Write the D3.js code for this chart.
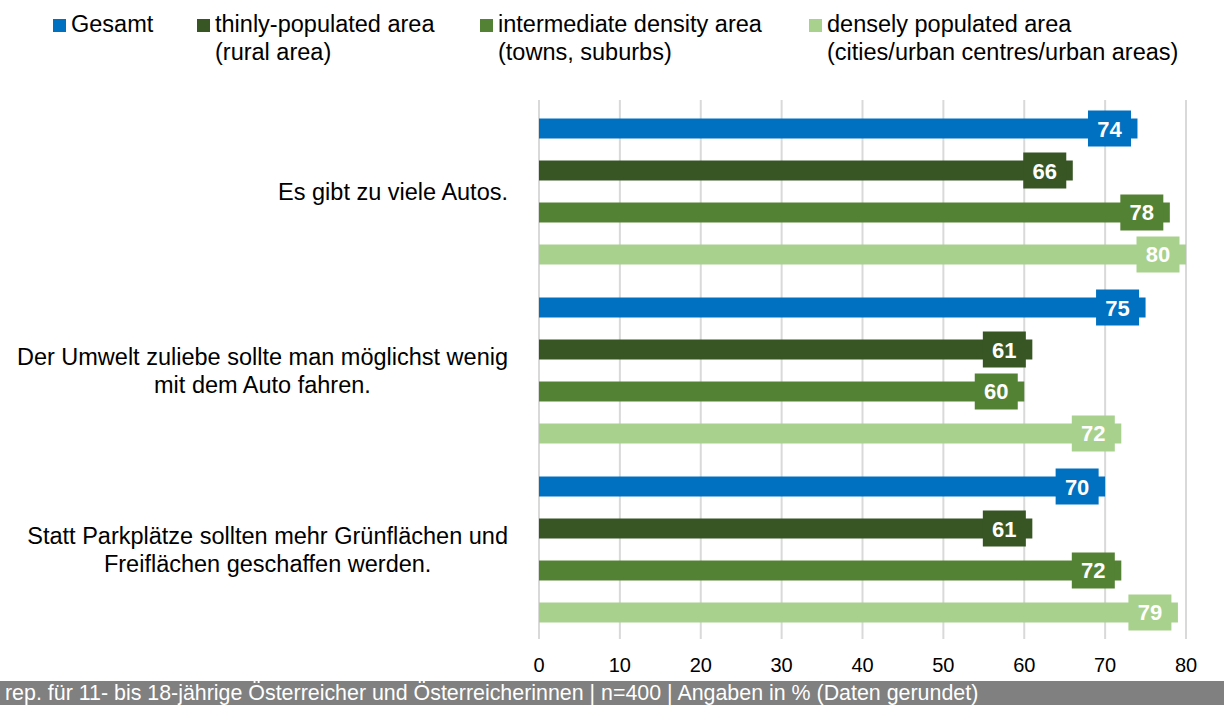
<!DOCTYPE html>
<html>
<head>
<meta charset="utf-8">
<script src="https://cdn.jsdelivr.net/npm/d3@7"></script>
<style>
  body { margin: 0; background: #fff; }
  text { font-family: "Liberation Sans", Arial, sans-serif; }
</style>
</head>
<body>
<div id="chart"></div>
<script>
// data
var categories = [
  ["Es gibt zu viele Autos."],
  ["Der Umwelt zuliebe sollte man möglichst wenig", "mit dem Auto fahren."],
  ["Statt Parkplätze sollten mehr Grünflächen und", "Freiflächen geschaffen werden."]
];
var seriesNames = [
  ["Gesamt"],
  ["thinly-populated area", "(rural area)"],
  ["intermediate density area", "(towns, suburbs)"],
  ["densely populated area", "(cities/urban centres/urban areas)"]
];
var gesamt = [74, 75, 70];
var thinly = [66, 61, 61];
var intermediate = [78, 60, 72];
var densely = [80, 72, 79];
var xTicks = [0, 10, 20, 30, 40, 50, 60, 70, 80];
var footerText = "rep. für 11- bis 18-jährige Österreicher und Österreicherinnen | n=400 | Angaben in % (Daten gerundet)";

var colors = ["#0070C0", "#375623", "#548235", "#A9D18E"];
var series = [gesamt, thinly, intermediate, densely];

var svgWidth = 1224, svgHeight = 705;
var svg = d3.select("#chart").append("svg")
  .attr("width", svgWidth)
  .attr("height", svgHeight);

var x = d3.scaleLinear().domain([0, 80]).range([539, 1186]);
var y0 = d3.scaleBand().domain(d3.range(categories.length)).range([102, 639]);
var y1 = d3.scaleBand().domain(d3.range(series.length))
  .range([0, y0.bandwidth()])
  .paddingInner(0.524).paddingOuter(0.393);

// gridlines
svg.append("g").selectAll("line")
  .data(xTicks)
  .enter().append("line")
  .attr("x1", d => x(d)).attr("x2", d => x(d))
  .attr("y1", 100).attr("y2", 639)
  .attr("stroke", "#D9D9D9")
  .attr("stroke-width", 2);

// tick labels
svg.append("g").selectAll("text")
  .data(xTicks)
  .enter().append("text")
  .attr("x", d => x(d))
  .attr("y", 672)
  .attr("text-anchor", "middle")
  .attr("font-size", "20px")
  .attr("fill", "#000")
  .text(d => d);

// bars
var groups = svg.append("g").selectAll("g")
  .data(categories)
  .enter().append("g")
  .attr("transform", (d, i) => `translate(0, ${y0(i)})`);

groups.each(function(cat, ci) {
  var g = d3.select(this);
  series.forEach(function(vals, si) {
    var v = vals[ci];
    var yy = y1(si);
    var bh = y1.bandwidth();
    g.append("rect")
      .attr("x", x(0))
      .attr("y", yy)
      .attr("width", x(v) - x(0))
      .attr("height", bh)
      .attr("fill", colors[si]);
    var cx = x(v) - 28;
    g.append("rect")
      .attr("x", cx - 21.5)
      .attr("y", yy + bh / 2 - 18)
      .attr("width", 43)
      .attr("height", 36)
      .attr("fill", colors[si]);
    g.append("text")
      .attr("x", cx)
      .attr("y", yy + bh / 2 + 8)
      .attr("text-anchor", "middle")
      .attr("font-size", "22px")
      .attr("font-weight", "bold")
      .attr("fill", "#fff")
      .text(v);
  });

  // category label
  var cy = y0.bandwidth() / 2;
  var lbl = g.append("text")
    .attr("font-size", "23.5px")
    .attr("fill", "#000")
    .attr("text-anchor", "middle");
  var lineH = 28.5;
  var tspans = lbl.selectAll("tspan")
    .data(cat)
    .enter().append("tspan")
    .attr("y", (d, i) => cy + 8.5 + (i - (cat.length - 1) / 2) * lineH)
    .text(d => d);
  var maxW = 0;
  tspans.each(function() { maxW = Math.max(maxW, this.getComputedTextLength()); });
  tspans.attr("x", 508 - maxW / 2);
});

// legend
var legendX = [53, 197, 480, 809];
var legend = svg.append("g").selectAll("g")
  .data(seriesNames)
  .enter().append("g")
  .attr("transform", (d, i) => `translate(${legendX[i]}, 0)`);
legend.append("rect")
  .attr("x", 0).attr("y", 19)
  .attr("width", 13).attr("height", 13)
  .attr("fill", (d, i) => colors[i]);
legend.append("text")
  .attr("font-size", "23.5px")
  .attr("fill", "#000")
  .selectAll("tspan")
  .data(d => d)
  .enter().append("tspan")
  .attr("x", 18)
  .attr("y", (d, i) => 32 + i * 28)
  .text(d => d);

// footer
svg.append("rect")
  .attr("x", 0).attr("y", 681)
  .attr("width", svgWidth).attr("height", 24)
  .attr("fill", "#808080");
svg.append("text")
  .attr("x", 5).attr("y", 700)
  .attr("font-size", "21.4px")
  .attr("fill", "#fff")
  .text(footerText);
</script>
</body>
</html>
